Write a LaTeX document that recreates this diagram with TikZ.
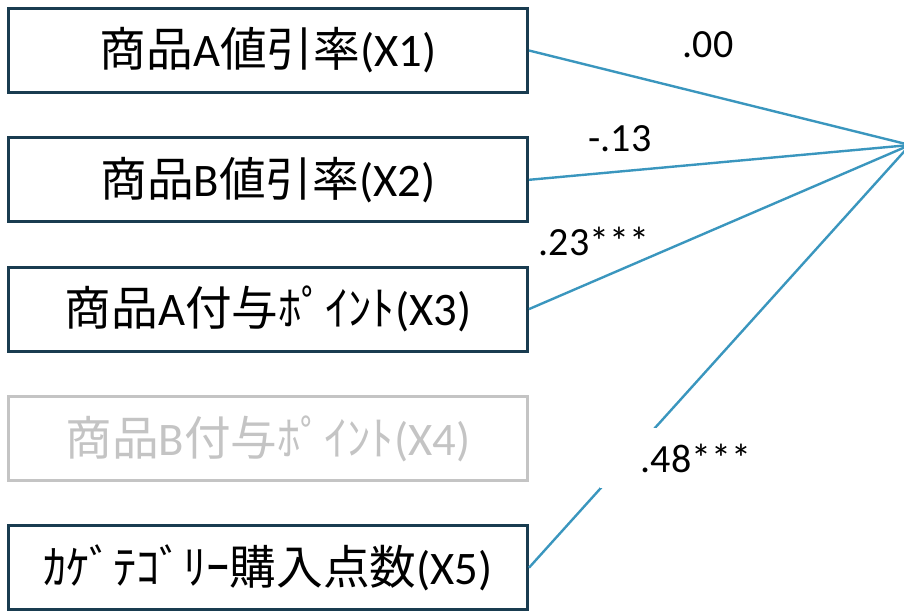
\documentclass[tikz,border=0pt]{standalone}
\usepackage{fontspec}
\setmainfont{Carlito}
\newfontfamily\cjk{Noto Sans CJK JP}
\definecolor{boxc}{HTML}{193C50}
\definecolor{linec}{HTML}{3A96BE}
\definecolor{greyc}{HTML}{C4C4C4}
\tikzset{
  varbox/.style={draw=boxc, line width=2.25pt, minimum width=389.25pt, minimum height=63pt, inner sep=0pt, font=\fontsize{35}{40}\selectfont},
  greybox/.style={varbox, draw=greyc, text=greyc},
  path/.style={draw=linec, line width=1.8pt},
  coef/.style={font=\fontsize{30}{34}\selectfont, inner sep=0pt}
}
\begin{document}
\begin{tikzpicture}[x=0.75pt,y=-0.75pt]
\useasboundingbox (0,0) rectangle (904,612);
\clip (0,0) rectangle (904,612);
\node[varbox] (x1) at (268,50.5) {{\cjk 商品}A{\cjk 値引率}(X1)};
\node[varbox] (x2) at (268,179.8) {{\cjk 商品}B{\cjk 値引率}(X2)};
\node[varbox] (x3) at (268,309.1) {{\cjk 商品}A{\cjk 付与ﾎﾟｲﾝﾄ}(X3)};
\node[greybox] (x4) at (268,438.4) {{\cjk 商品}B{\cjk 付与ﾎﾟｲﾝﾄ}(X4)};
\node[varbox] (x5) at (268,567.7) {{\cjk ｶｹﾞﾃｺﾞﾘｰ購入点数}(X5)};
\coordinate (y) at (910,145);
\draw[path] (x1.east) -- (y);
\draw[path] (x2.east) -- (y);
\draw[path] (x3.east) -- (y);
\draw[path] (x5.east) -- (y);
\node[coef] (c1) at (708,45) {.00};
\node[coef] (c2) at (620,139) {-.13};
\node[coef] (c3) at (594,241) {.23***};
\node[coef, fill=white, minimum width=144pt, minimum height=45pt] (c5) at (696,458) {.48***};
\end{tikzpicture}
\end{document}
